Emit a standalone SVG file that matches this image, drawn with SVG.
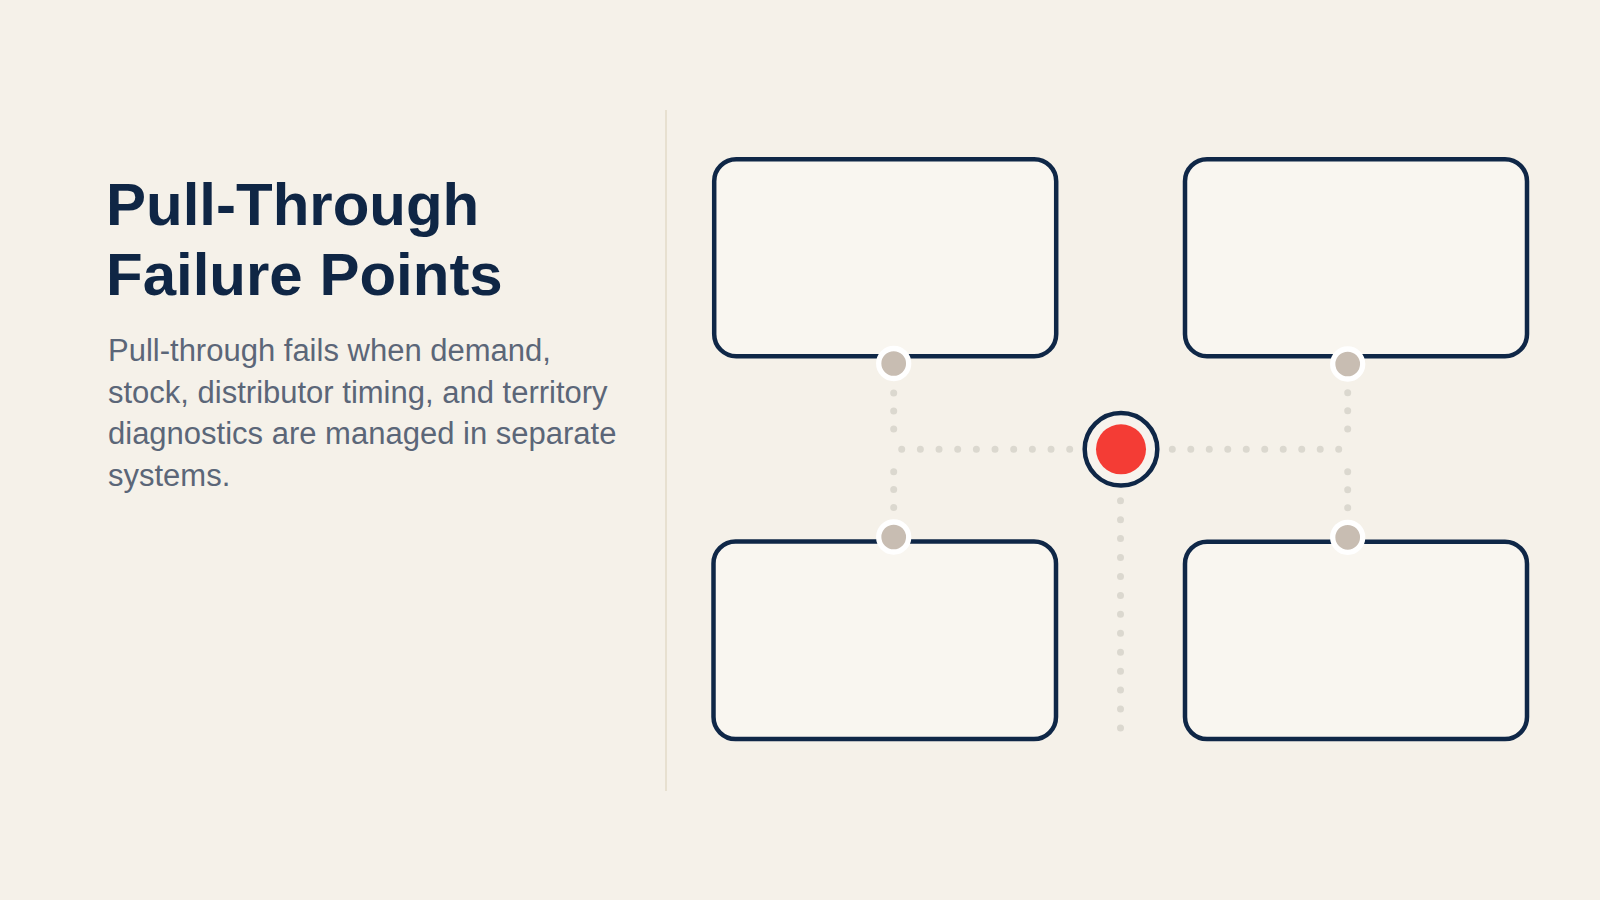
<svg xmlns="http://www.w3.org/2000/svg" width="1600" height="900" viewBox="0 0 1600 900">
  <style>
    .title { font-family: "Liberation Sans", Arial, sans-serif; font-weight: 700; font-size: 60px; fill: #0f2645; }
    .body { font-family: "Liberation Sans", Arial, sans-serif; font-size: 31px; fill: #5b6678; }
    .box { fill: #f9f6f0; stroke: #0f2747; stroke-width: 4.5; }
    .dots { fill: none; stroke: #dbd8cf; stroke-width: 7; stroke-linecap: round; }
    .port { fill: #c8bdb2; stroke: #ffffff; stroke-width: 5.3; }
  </style>
  <rect x="0" y="0" width="1600" height="900" fill="#f5f1e9"/>
  <g id="header">
    <text class="title" x="106" y="225">Pull-Through</text>
    <text class="title" x="106" y="295">Failure Points</text>
    <text class="body" x="108" y="361">Pull-through fails when demand,</text>
    <text class="body" x="108" y="402.5">stock, distributor timing, and territory</text>
    <text class="body" x="108" y="444.3">diagnostics are managed in separate</text>
    <text class="body" x="108" y="486">systems.</text>
  </g>
  <line id="divider" x1="666" y1="110" x2="666" y2="791" stroke="#e7e0d0" stroke-width="2"/>
  <g id="connectors">
    <path class="dots" d="M901.7 449.3 H1070.5" stroke-dasharray="0 18.667"/>
    <path class="dots" d="M1172.3 449.3 H1339.5" stroke-dasharray="0 18.489"/>
    <path class="dots" d="M893.7 393 V430" stroke-dasharray="0 18"/>
    <path class="dots" d="M893.7 471.7 V508.5" stroke-dasharray="0 17.9"/>
    <path class="dots" d="M1347.7 392.7 V430" stroke-dasharray="0 18.15"/>
    <path class="dots" d="M1347.7 471.7 V508.5" stroke-dasharray="0 18"/>
    <path class="dots" d="M1120.5 500.7 V729" stroke-dasharray="0 18.94"/>
  </g>
  <g id="node-top-left">
    <rect class="box" x="714.2" y="159.2" width="342" height="197" rx="22"/>
    <circle class="port" cx="893.7" cy="363.5" r="15"/>
  </g>
  <g id="node-top-right">
    <rect class="box" x="1185" y="159.2" width="342" height="197" rx="22"/>
    <circle class="port" cx="1347.7" cy="364" r="15"/>
  </g>
  <g id="node-bottom-left">
    <rect class="box" x="713.5" y="541.5" width="342.5" height="197.5" rx="22"/>
    <circle class="port" cx="893.7" cy="537" r="15"/>
  </g>
  <g id="node-bottom-right">
    <rect class="box" x="1185" y="541.7" width="342" height="197.3" rx="22"/>
    <circle class="port" cx="1347.7" cy="537.3" r="15"/>
  </g>
  <g id="node-center">
    <circle cx="1121" cy="449.3" r="36.3" fill="#f7f3ed" stroke="#0f2747" stroke-width="4.5"/>
    <circle cx="1121" cy="449.3" r="25" fill="#f43c35"/>
  </g>
</svg>
